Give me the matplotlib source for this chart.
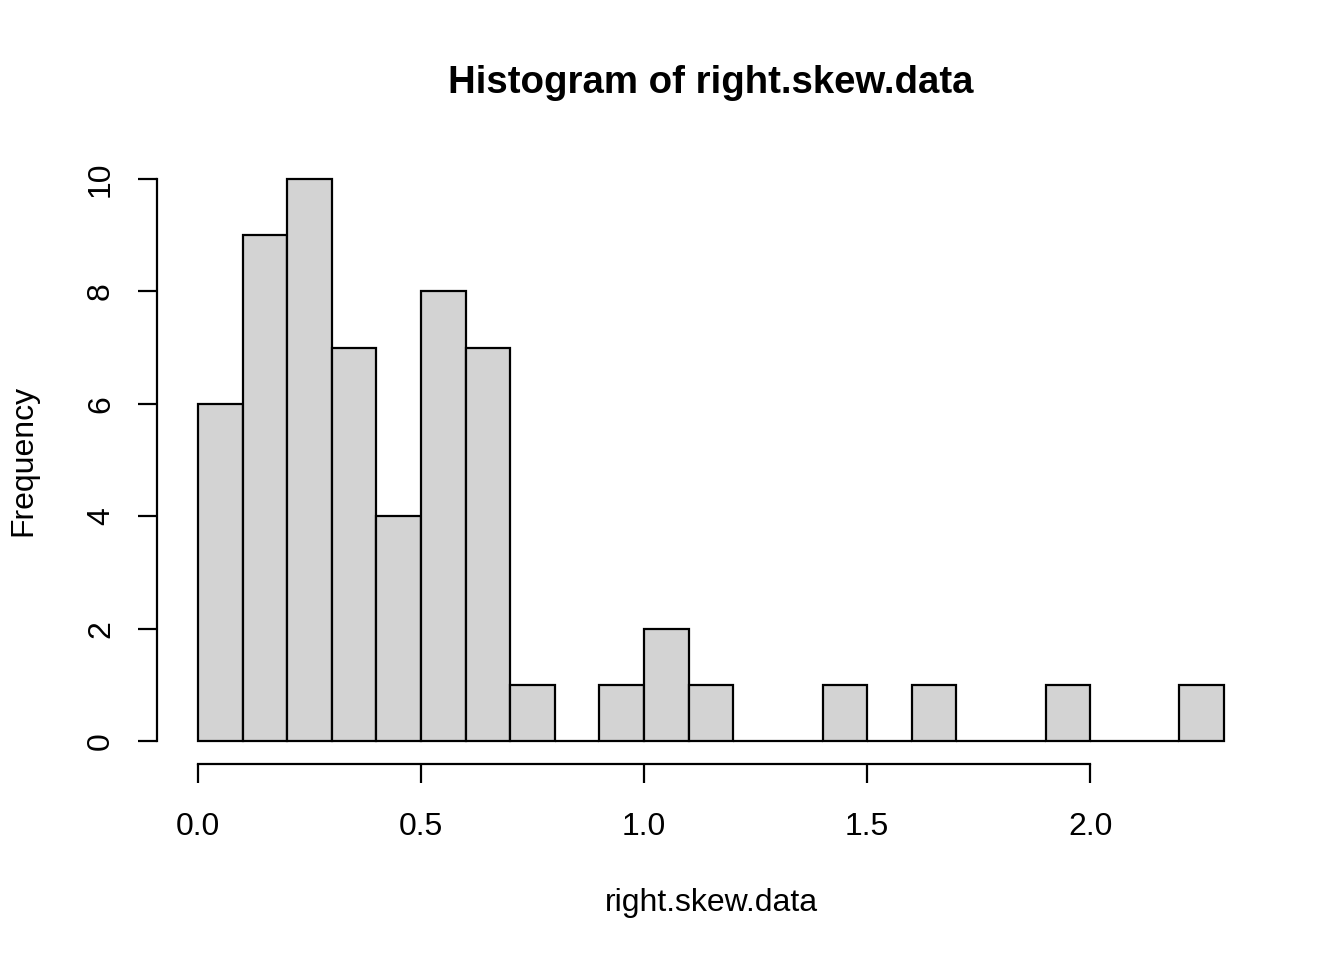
import numpy as np
import matplotlib.pyplot as plt

plt.rcParams['font.family'] = ['Liberation Sans', 'DejaVu Sans']

# bin edges of the histogram (width 0.1) and counts
bin_edges = np.round(np.arange(0, 2.31, 0.1), 2)
counts = [6, 9, 10, 7, 4, 8, 7, 1, 0, 1, 2, 1, 0, 0, 1, 0, 1, 0, 0, 1, 0, 0, 1]
x_ticks = [0.0, 0.5, 1.0, 1.5, 2.0]
x_tick_labels = ["0.0", "0.5", "1.0", "1.5", "2.0"]
y_ticks = [0, 2, 4, 6, 8, 10]

fig = plt.figure(figsize=(13.44, 9.6), dpi=100)
ax = fig.add_axes([157 / 1344, 1 - 763.5 / 960, (1265 - 157) / 1344, (763.5 - 156.5) / 960])

ax.bar(bin_edges[:-1], counts, width=np.diff(bin_edges), align='edge',
       color='#D3D3D3', edgecolor='black', linewidth=1.6)

# R style axes: extend 4% and draw the axis lines only over the tick range
ax.set_xlim(-0.092, 2.392)
ax.set_ylim(-0.4, 10.4)
for s in ['top', 'right']:
    ax.spines[s].set_visible(False)
ax.spines['bottom'].set_bounds(0, 2.0)
ax.spines['left'].set_bounds(0, 10)
ax.spines['bottom'].set_linewidth(1.6)
ax.spines['left'].set_linewidth(1.6)

ax.set_xticks(x_ticks)
ax.set_xticklabels(x_tick_labels)
ax.set_yticks(y_ticks)
ax.set_yticklabels([str(v) for v in y_ticks], rotation=90, va='center')
ax.tick_params(axis='both', direction='out', length=14, width=1.6, labelsize=23)
ax.tick_params(axis='x', pad=21)
ax.tick_params(axis='y', pad=15.5)

ax.set_xlabel("right.skew.data", fontsize=23, labelpad=33)
ax.set_ylabel("Frequency", fontsize=23, labelpad=34)
ax.set_title("Histogram of right.skew.data", fontsize=27.6, fontweight='bold', pad=46)

fig.savefig("out.png", dpi=100)
